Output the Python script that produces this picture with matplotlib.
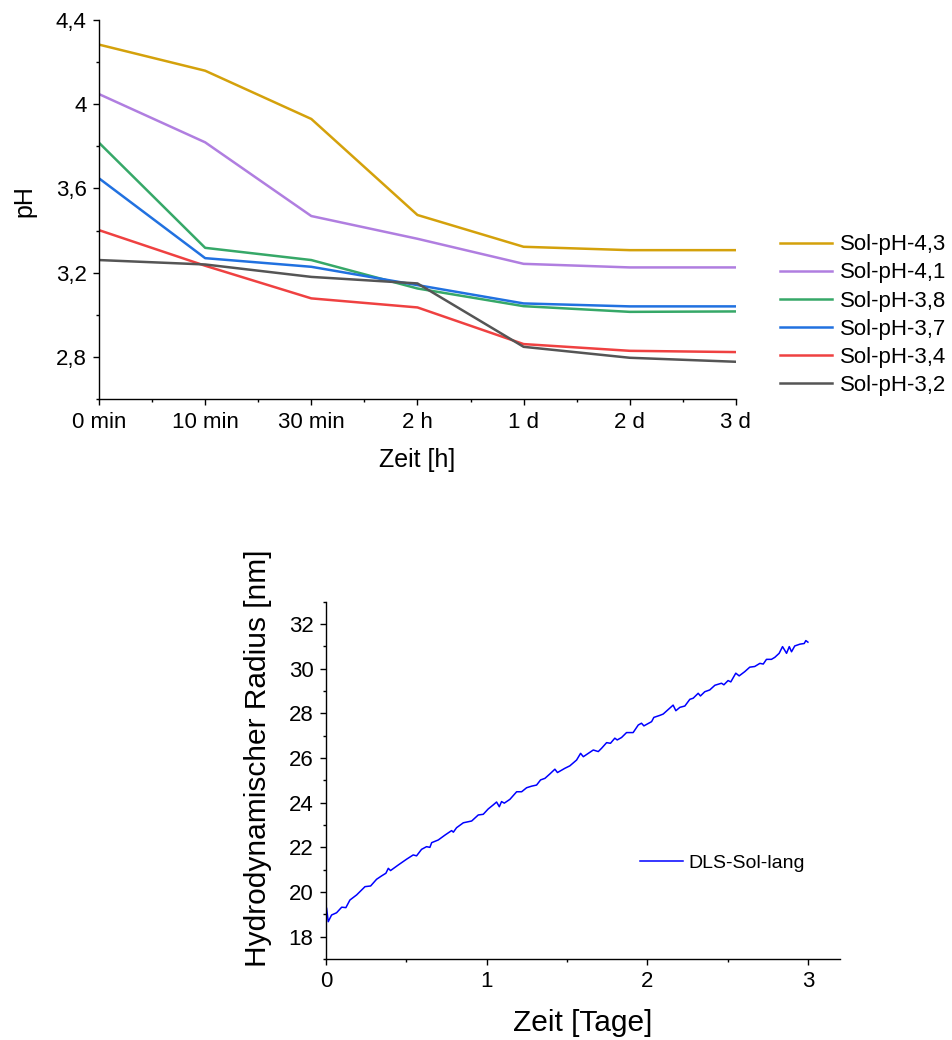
import matplotlib
matplotlib.use("Agg")
import matplotlib.pyplot as plt
from matplotlib.ticker import MultipleLocator

plt.rcParams['font.family'] = ['Liberation Sans', 'DejaVu Sans']

# pH over time (top chart)
time_labels = ["0 min", "10 min", "30 min", "2 h", "1 d", "2 d", "3 d"]
sol_names = ["Sol-pH-4,3", "Sol-pH-4,1", "Sol-pH-3,8", "Sol-pH-3,7", "Sol-pH-3,4", "Sol-pH-3,2"]
ph_43 = [4.283, 4.159, 3.930, 3.474, 3.323, 3.307, 3.307]
ph_41 = [4.048, 3.819, 3.469, 3.361, 3.242, 3.225, 3.225]
ph_38 = [3.817, 3.318, 3.260, 3.125, 3.041, 3.014, 3.016]
ph_37 = [3.648, 3.269, 3.228, 3.141, 3.054, 3.040, 3.040]
ph_34 = [3.402, 3.233, 3.078, 3.035, 2.861, 2.829, 2.823]
ph_32 = [3.260, 3.239, 3.180, 3.149, 2.848, 2.796, 2.777]
ph_ticks = [2.8, 3.2, 3.6, 4.0, 4.4]
ph_tick_labels = ["2,8", "3,2", "3,6", "4", "4,4"]

# DLS radius over days (bottom chart)
dls_days = [0.000, 0.004, 0.014, 0.035, 0.066, 0.098, 0.124, 0.149, 0.191, 0.243,
            0.278, 0.315, 0.346, 0.373, 0.388, 0.402, 0.450, 0.502, 0.543, 0.564,
            0.595, 0.626, 0.647, 0.658, 0.699, 0.741, 0.782, 0.793, 0.813, 0.855,
            0.907, 0.948, 0.979, 1.010, 1.041, 1.062, 1.079, 1.093, 1.110, 1.145,
            1.187, 1.218, 1.249, 1.280, 1.311, 1.336, 1.363, 1.394, 1.425, 1.441,
            1.487, 1.518, 1.560, 1.585, 1.602, 1.633, 1.664, 1.695, 1.716, 1.747,
            1.771, 1.798, 1.813, 1.840, 1.871, 1.912, 1.944, 1.964, 1.979, 2.027,
            2.041, 2.078, 2.099, 2.161, 2.178, 2.203, 2.234, 2.265, 2.286, 2.317,
            2.331, 2.358, 2.389, 2.421, 2.462, 2.477, 2.503, 2.520, 2.551, 2.572,
            2.607, 2.638, 2.669, 2.701, 2.722, 2.742, 2.773, 2.794, 2.821, 2.842,
            2.867, 2.884, 2.898, 2.918, 2.950, 2.977, 2.987, 3.000]
dls_radius = [19.35, 19.27, 18.67, 18.97, 19.07, 19.32, 19.30, 19.64, 19.87, 20.24,
              20.27, 20.57, 20.72, 20.84, 21.06, 20.96, 21.21, 21.47, 21.66, 21.62,
              21.91, 22.03, 22.00, 22.21, 22.33, 22.55, 22.75, 22.68, 22.88, 23.10,
              23.18, 23.45, 23.48, 23.72, 23.90, 24.03, 23.82, 24.05, 23.98, 24.15,
              24.49, 24.49, 24.67, 24.74, 24.79, 25.02, 25.09, 25.29, 25.50, 25.35,
              25.54, 25.65, 25.91, 26.21, 26.06, 26.21, 26.36, 26.29, 26.44, 26.69,
              26.66, 26.89, 26.81, 26.92, 27.14, 27.14, 27.48, 27.56, 27.44, 27.63,
              27.82, 27.91, 27.97, 28.37, 28.12, 28.27, 28.33, 28.63, 28.68, 28.90,
              28.78, 28.97, 29.05, 29.26, 29.35, 29.28, 29.47, 29.41, 29.80, 29.68,
              29.87, 30.07, 30.10, 30.24, 30.21, 30.42, 30.42, 30.51, 30.69, 30.99,
              30.69, 30.99, 30.76, 31.02, 31.10, 31.13, 31.26, 31.19]

colors = ['#D4A10B', '#B07EE0', '#36A868', '#2171E0', '#EF4141', '#555555']


def style_axes(ax, tick_size):
    ax.spines['top'].set_visible(False)
    ax.spines['right'].set_visible(False)
    for s in ('left', 'bottom'):
        ax.spines[s].set_linewidth(1.0)
    ax.tick_params(which='major', direction='out', length=4.5, width=1.0,
                   labelsize=tick_size, pad=4.5)
    ax.tick_params(which='minor', direction='out', length=2.5, width=1.0)


fig = plt.figure(figsize=(9.52, 10.4), dpi=100)

# top chart
ax1 = fig.add_axes([0.104, 0.6163, 0.669, 0.3645])
x = list(range(len(time_labels)))
series = [ph_43, ph_41, ph_38, ph_37, ph_34, ph_32]
for vals, name, c in zip(series, sol_names, colors):
    ax1.plot(x, vals, color=c, linewidth=1.8, label=name)
ax1.set_xlim(0, 6)
ax1.set_ylim(2.6, 4.4)
ax1.set_xticks(x)
ax1.set_xticklabels(time_labels)
ax1.xaxis.set_minor_locator(MultipleLocator(0.5))
ax1.set_yticks(ph_ticks)
ax1.set_yticklabels(ph_tick_labels)
ax1.yaxis.set_minor_locator(MultipleLocator(0.2))
style_axes(ax1, 16)
ax1.set_xlabel("Zeit [h]", fontsize=18)
ax1.set_ylabel("pH", fontsize=18)
ax1.xaxis.set_label_coords(0.5, -0.128)
ax1.yaxis.set_label_coords(-0.099, 0.522)
ax1.legend(loc='center left', bbox_to_anchor=(780 / 952, 0.697),
           bbox_transform=fig.transFigure, frameon=False, fontsize=16,
           handlelength=2.35, handletextpad=0.35, labelspacing=0.32,
           borderpad=0, borderaxespad=0)

# bottom chart
ax2 = fig.add_axes([0.3424, 0.0779, 0.54, 0.3435])
ax2.plot(dls_days, dls_radius, color='#0000FF', linewidth=1.1, label="DLS-Sol-lang")
ax2.set_xlim(0, 3.2)
ax2.set_ylim(17, 33)
ax2.set_xticks([0, 1, 2, 3])
ax2.xaxis.set_minor_locator(MultipleLocator(0.5))
ax2.set_yticks([18, 20, 22, 24, 26, 28, 30, 32])
ax2.yaxis.set_minor_locator(MultipleLocator(1))
style_axes(ax2, 16)
ax2.set_xlabel("Zeit [Tage]", fontsize=21.5)
ax2.set_ylabel("Hydrodynamischer Radius [nm]", fontsize=21.5)
ax2.xaxis.set_label_coords(0.5, -0.14)
ax2.yaxis.set_label_coords(-0.105, 0.5626)
ax2.legend(loc='center left', bbox_to_anchor=(640 / 952, 1 - 863 / 1040),
           bbox_transform=fig.transFigure, frameon=False, fontsize=14,
           handlelength=2.2, handletextpad=0.3, borderpad=0, borderaxespad=0)

fig.savefig("out.png", dpi=100)
